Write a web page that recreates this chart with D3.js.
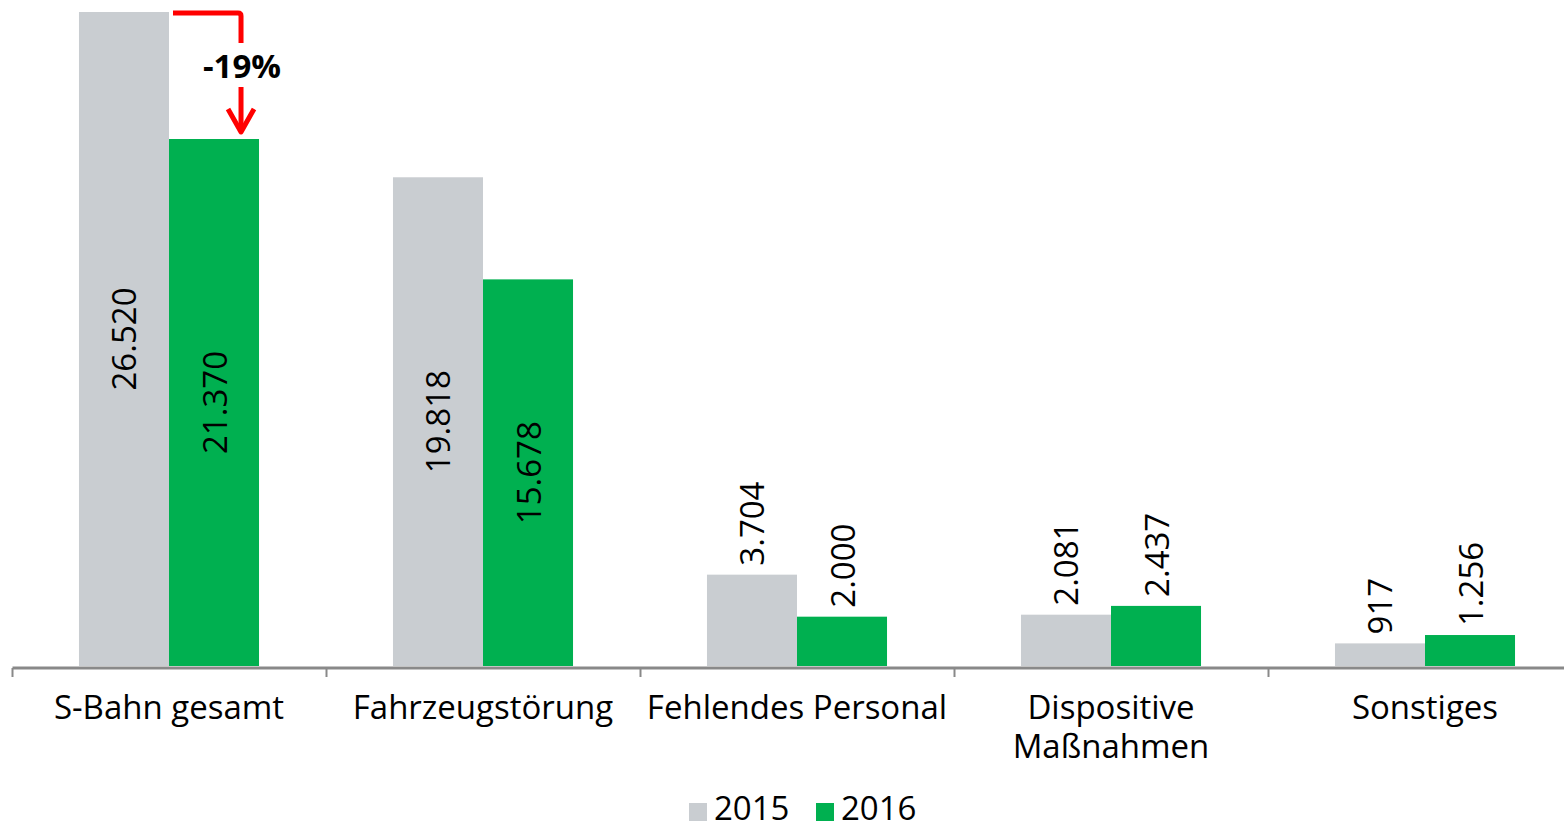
<!DOCTYPE html>
<html>
<head>
<meta charset="utf-8">
<script src="https://cdn.jsdelivr.net/npm/d3@7"></script>
<style>
  body { margin: 0; background: #fff; }
  text { font-family: "Open Sans", "Noto Sans", sans-serif; fill: #000; }
</style>
</head>
<body>
<svg id="chart"></svg>
<script>
// data
const categories = ["S-Bahn gesamt", "Fahrzeugstörung", "Fehlendes Personal", "Dispositive\nMaßnahmen", "Sonstiges"];
const years = ["2015", "2016"];
const values2015 = [26520, 19818, 3704, 2081, 917];
const values2016 = [21370, 15678, 2000, 2437, 1256];
const colors = {"2015": "#c9cdd1", "2016": "#00b050"};

const width = 1564, height = 828;
const svg = d3.select("#chart")
    .attr("width", width)
    .attr("height", height);

// scales
const x = d3.scaleBand()
    .domain(categories)
    .range([12, 1582]);
const xSub = d3.scaleBand()
    .domain(years)
    .range([0, x.bandwidth()])
    .paddingInner(0)
    .paddingOuter(0.744);
const y = d3.scaleLinear()
    .domain([0, d3.max(values2015.concat(values2016))])
    .range([666, 12]);

const rows = categories.map((c, i) => ({cat: c, vals: [
    {year: "2015", value: values2015[i]},
    {year: "2016", value: values2016[i]}
]}));

const fmt = d3.formatLocale({decimal: ",", thousands: ".", grouping: [3], currency: ["", "€"]}).format(",d");

// bars
const groups = svg.append("g").selectAll("g")
    .data(rows)
    .join("g")
    .attr("transform", d => `translate(${x(d.cat)},0)`);
groups.selectAll("rect")
    .data(d => d.vals)
    .join("rect")
    .attr("x", d => xSub(d.year))
    .attr("y", d => y(d.value))
    .attr("width", xSub.bandwidth())
    .attr("height", d => y(0) - y(d.value))
    .attr("fill", d => colors[d.year]);

// value labels, rotated; large values sit in the middle of the bar
groups.selectAll("text.val")
    .data(d => d.vals)
    .join("text")
    .attr("class", "val")
    .attr("font-size", 33)
    .attr("dominant-baseline", "central")
    .attr("text-anchor", d => d.value > 10000 ? "middle" : "start")
    .attr("transform", d => {
        const cx = xSub(d.year) + xSub.bandwidth() / 2;
        const cy = d.value > 10000 ? (y(d.value) + y(0)) / 2 : y(d.value) - 9;
        return `translate(${cx},${cy}) rotate(-90)`;
    })
    .text(d => fmt(d.value));

// axis
const axis = svg.append("g")
    .attr("transform", `translate(0,${y(0) + 1.5})`)
    .call(d3.axisBottom(x).tickSize(0).tickSizeOuter(0).tickFormat(""));
axis.select(".domain").attr("stroke", "#898989").attr("stroke-width", 3);
svg.append("g").selectAll("line")
    .data(categories)
    .join("line")
    .attr("x1", d => x(d) + 0.5)
    .attr("x2", d => x(d) + 0.5)
    .attr("y1", y(0) + 2)
    .attr("y2", y(0) + 11)
    .attr("stroke", "#898989")
    .attr("stroke-width", 2);

// category labels
svg.append("g").selectAll("text")
    .data(categories)
    .join("text")
    .attr("font-size", 33)
    .attr("text-anchor", "middle")
    .attr("transform", d => `translate(${x(d) + x.bandwidth() / 2},719)`)
    .selectAll("tspan")
    .data(d => d.split("\n"))
    .join("tspan")
    .attr("x", 0)
    .attr("y", (d, i) => i * 39)
    .text(d => d);

// change annotation on the first group
const c0 = categories[0];
const topA = y(values2015[0]) + 1;
const arrowX = x(c0) + xSub("2016") + xSub.bandwidth() * 0.8;
const tipY = y(values2016[0]) - 5;
const red = "#ff0000";
const ann = svg.append("g").attr("fill", "none").attr("stroke", red).attr("stroke-width", 5);
ann.append("path")
    .attr("d", `M${x(c0) + xSub("2015") + xSub.bandwidth() + 4},${topA} H${arrowX - 3} Q${arrowX},${topA} ${arrowX},${topA + 3} V43`);
ann.append("path")
    .attr("d", `M${arrowX},87 V${tipY - 2}`);
ann.append("path")
    .attr("stroke-linejoin", "round")
    .attr("d", `M${arrowX - 13},${tipY - 25} L${arrowX},${tipY - 2} L${arrowX + 13},${tipY - 25}`);
const change = (values2016[0] - values2015[0]) / values2015[0];
svg.append("text")
    .attr("x", arrowX + 1)
    .attr("y", 78)
    .attr("text-anchor", "middle")
    .attr("font-size", 33)
    .attr("font-weight", "bold")
    .text(d3.format(".0%")(change).replace("−", "-"));

// legend
const legend = svg.append("g").selectAll("g")
    .data(years)
    .join("g")
    .attr("transform", (d, i) => `translate(${689 + i * 127},0)`);
legend.append("rect")
    .attr("x", 0)
    .attr("y", 803)
    .attr("width", 18)
    .attr("height", 18)
    .attr("fill", d => colors[d]);
legend.append("text")
    .attr("x", 25)
    .attr("y", 820)
    .attr("font-size", 33)
    .text(d => d);
</script>
</body>
</html>
